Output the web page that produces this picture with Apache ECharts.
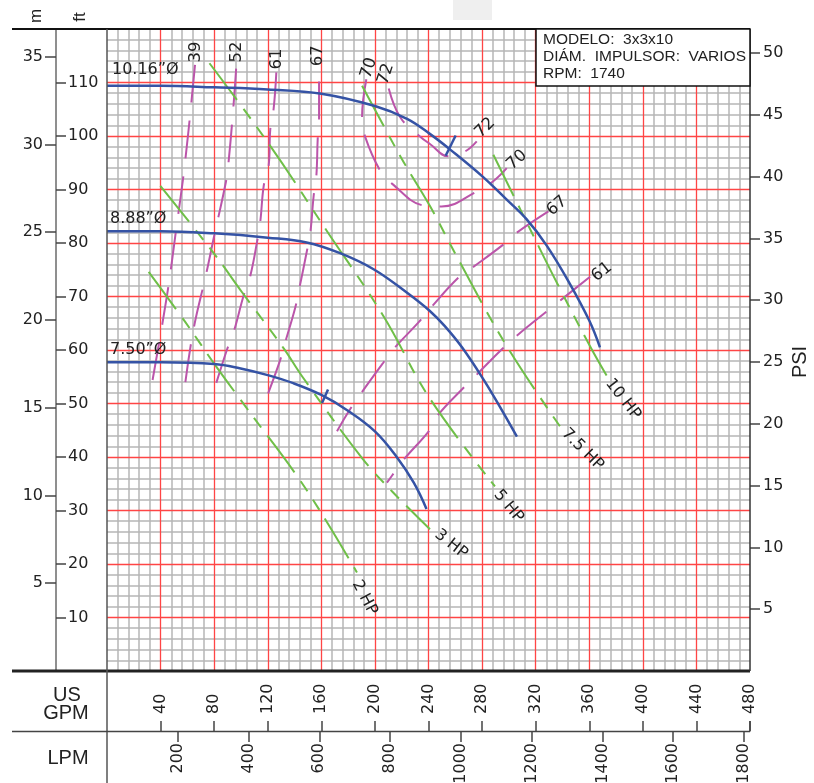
<!DOCTYPE html>
<html><head><meta charset="utf-8">
<script src="https://cdn.jsdelivr.net/npm/echarts@6/dist/echarts.min.js"></script>
<style>html,body{margin:0;padding:0;background:#fff}#c{width:814px;height:783px}</style>
</head><body><div id="c"></div><script>
// ---------- tick labels ----------
const GPM_TICKS = [40,80,120,160,200,240,280,320,360,400,440,480];
const LPM_TICKS = [200,400,600,800,1000,1200,1400,1600,1800];
const FT_TICKS = [10,20,30,40,50,60,70,80,90,100,110];
const M_TICKS = [5,10,15,20,25,30,35];
const PSI_TICKS = [5,10,15,20,25,30,35,40,45,50];

// ---------- impeller curves [GPM, ft] ----------
const IMP_1016 = [[0,109.4],[40,109.4],[80,109.1],[120,108.7],[160,107.9],[200,105.6],[224,103.2],[241,100.4],[256,97.5],[280,92.5],[298,88.2],[313,84.5],[328,79.6],[345,72.6],[360,65.5],[368,60.5]];
const IMP_888 = [[0,82.2],[40,82.2],[80,81.8],[120,81.0],[149,80.1],[174,78.1],[199,75.1],[224,70.7],[241,67.3],[252,64.5],[265,60.5],[281,54.5],[293,49.5],[306,43.8]];
const IMP_750 = [[0,57.7],[40,57.7],[80,57.4],[99,56.6],[120,55.3],[139,53.8],[160,51.6],[179,48.8],[200,44.8],[216,40.1],[229,35.2],[238.5,30.3]];
const TICK_1016 = [[260.3,100.1],[252.8,96.3]];
const TICK_750 = [[165,52.6],[160.5,50.1]];

// ---------- horsepower lines ----------
const HP_10 = [[288.4,96.5],[318,81.5],[337,72],[361,60.5],[373,55.2]];
const HP_75 = [[190.4,109.4],[206.5,101.9],[221.5,95.1],[241.1,86.9],[259.8,78.1],[297,61.3],[338.2,45.7]];
const HP_5 = [[76.5,113.6],[121.7,98.2],[164,82.3],[206.2,66.4],[241.1,50.9],[289.6,34.5]];
const HP_3 = [[39.8,90.7],[80.9,77.7],[100.8,70.8],[131.9,60.3],[145.6,55.1],[190.4,39.8],[212.7,33.6],[241.1,26.5]];
const HP_2 = [[31.1,74.6],[58.5,65.2],[82.1,56.7],[103.2,49.5],[148,34.2],[186.6,18.4]];

// ---------- efficiency lines ----------
const EFF_39 = [[65.7,113.3],[58.4,95.4],[51.0,81.4],[44.8,70.2],[33.6,53.8]];
const EFF_52 = [[96.4,112.6],[94.4,105.6],[90.7,95.0],[88.9,91.6],[80.0,81.3],[74.0,74.2],[64.6,63.9],[58.4,53.8]];
const EFF_61 = [[126.4,111.9],[124.4,105.1],[121.9,101.3],[120.7,94.5],[117,90.7],[114.4,83.9],[112,80.2],[107,73.9],[102,70.2],[94.6,63.4],[89.6,60.1],[80.8,53.2]];
const EFF_67 = [[158.3,110.2],[158.3,103.2],[157.3,99.5],[156.3,92.6],[154.3,88.9],[151.8,82],[149.3,78.6],[143.8,71.8],[140.6,68.0],[133.1,61.5],[129.4,58.2],[119.4,51.3]];
const EFF_70 = [[193.6,110.6],[190.4,103.5],[192.8,99.8],[204,93.5],[212.7,91.1],[236.4,87.0],[249.8,86.8],[276,89.6],[288.1,91.5],[298.4,94.0]];
const EFF_72 = [[210.3,108.9],[218.9,103.5],[232.7,100.1],[241.1,98.5],[254.8,96.2],[267.2,97.1],[276,99.0]];
const EFF_67R = [[329.5,85.9],[305.8,81.9],[295.8,79.7],[272.2,75.3],[262.2,73.5],[242.4,68.1],[232.7,65.2],[214,60.2],[205.3,57.3],[189.1,51.7],[180.4,48.5],[171.7,44.8]];
const EFF_61R = [[360.6,73.7],[340.6,69.7],[328.2,67.2],[307,62.9],[294.6,60.1],[276,55.4],[266,52.9],[247.3,47.9],[241.1,45.1],[221.5,39.5],[212.7,36.5],[209,35.2]];

// ---------- label texts ----------
const CURVE_LABELS = ['10.16”Ø','8.88”Ø','7.50”Ø'];
const HP_LABELS = ['10 HP','7.5 HP','5 HP','3 HP','2 HP'];
const EFF_LABELS = ['39','52','61','67','70','72','72','70','67','61'];
const INFO = ['MODELO:  3x3x10','DIÁM.  IMPULSOR:  VARIOS','RPM:  1740'];

const GPM_MAX = 480, FT_MAX = 120;
const LPM_PER_GPM = 3.785411784, M_PER_FT = 0.3048, FT_PER_PSI = 2.31;

const BLUE = '#3553a5', GREEN = '#6fbf48', MAG = '#bb55aa';
const GREEN_DASH = [46,11,12,10,12,10];
const MAG_DASH = [38,18];
const NUM = {fontFamily:'DejaVu Sans', fontSize:16, color:'#222', formatter: v => String(v)};
const TICK_STYLE = {color:'#444', width:1.5};

function ser(data, color, width, type, smooth) {
  return {type:'line', data, xAxisIndex:0, yAxisIndex:0, symbol:'none', silent:true,
    smooth: smooth === undefined ? 0.4 : smooth, animation:false, z:3,
    lineStyle:{color, width, type, cap:'butt', join:'round'}};
}
const hidden = {axisLine:{show:false}, axisTick:{show:false}, axisLabel:{show:false}, splitLine:{show:false}};

const chart = echarts.init(document.getElementById('c'));
chart.setOption({
  animation:false,
  backgroundColor:'#fff',
  grid:[
    {left:107, top:29, width:643, height:642, outerBoundsMode:'none'},   // plot
    {left:56, top:29, width:51, height:642, outerBoundsMode:'none'},     // left axis strip
    {left:107, top:671, width:643, height:60, outerBoundsMode:'none'}    // bottom axis strip
  ],
  xAxis:[
    Object.assign({type:'value', gridIndex:0, min:0, max:GPM_MAX, interval:40, z:0}, hidden,
      {minorTick:{show:false, splitNumber:5}, minorSplitLine:{show:true, lineStyle:{color:'#b6b6b6', width:1.5}}}),
    Object.assign({type:'value', gridIndex:0, min:0, max:GPM_MAX, interval:40, position:'top', z:1}, hidden,
      {splitLine:{show:true, showMinLine:false, showMaxLine:false, lineStyle:{color:'#ff4545', width:1.3}}}),
    {type:'value', gridIndex:2, min:0, max:GPM_MAX, position:'bottom',
     axisLine:{show:false}, splitLine:{show:false},
     axisTick:{show:true, inside:true, length:10, customValues:GPM_TICKS, lineStyle:TICK_STYLE},
     axisLabel:Object.assign({inside:true, rotate:90, margin:17, customValues:GPM_TICKS}, NUM)},
    {type:'value', gridIndex:2, min:0, max:GPM_MAX*LPM_PER_GPM, position:'bottom',
     axisLine:{show:false}, splitLine:{show:false},
     axisTick:{show:true, inside:false, length:11, customValues:LPM_TICKS, lineStyle:TICK_STYLE},
     axisLabel:Object.assign({rotate:90, margin:12, customValues:LPM_TICKS}, NUM)},
    Object.assign({type:'value', gridIndex:1, min:0, max:1}, hidden)
  ],
  yAxis:[
    Object.assign({type:'value', gridIndex:0, min:0, max:FT_MAX, interval:10, z:0}, hidden,
      {minorTick:{show:false, splitNumber:5}, minorSplitLine:{show:true, lineStyle:{color:'#b6b6b6', width:1.5}}}),
    Object.assign({type:'value', gridIndex:0, min:0, max:FT_MAX, interval:10, position:'left', z:1}, hidden,
      {splitLine:{show:true, showMinLine:false, showMaxLine:false, lineStyle:{color:'#ff4545', width:1.3}}}),
    {type:'value', gridIndex:0, min:0, max:FT_MAX/FT_PER_PSI, position:'right',
     axisLine:{show:false}, splitLine:{show:false},
     axisTick:{show:true, inside:false, length:10, customValues:PSI_TICKS, lineStyle:TICK_STYLE},
     axisLabel:Object.assign({margin:13, customValues:PSI_TICKS}, NUM)},
    {type:'value', gridIndex:1, min:0, max:FT_MAX, position:'left',
     axisLine:{show:true, lineStyle:{color:'#6a6a6a', width:1.5}}, splitLine:{show:false},
     axisTick:{show:true, inside:true, length:10, customValues:FT_TICKS, lineStyle:TICK_STYLE},
     axisLabel:Object.assign({inside:true, margin:12, customValues:FT_TICKS}, NUM)},
    {type:'value', gridIndex:1, min:0, max:FT_MAX*M_PER_FT, position:'left',
     axisLine:{show:false}, splitLine:{show:false},
     axisTick:{show:true, inside:false, length:11, customValues:M_TICKS, lineStyle:TICK_STYLE},
     axisLabel:Object.assign({margin:13, customValues:M_TICKS}, NUM)},
    Object.assign({type:'value', gridIndex:2, min:0, max:1}, hidden)
  ],
  series:[
    ser(EFF_39, MAG, 2, MAG_DASH), ser(EFF_52, MAG, 2, MAG_DASH), ser(EFF_61, MAG, 2, MAG_DASH),
    ser(EFF_67, MAG, 2, MAG_DASH), ser(EFF_70, MAG, 2, MAG_DASH), ser(EFF_72, MAG, 2, MAG_DASH),
    ser(EFF_67R, MAG, 2, MAG_DASH), ser(EFF_61R, MAG, 2, MAG_DASH),
    ser(HP_10, GREEN, 2, GREEN_DASH), ser(HP_75, GREEN, 2, GREEN_DASH), ser(HP_5, GREEN, 2, GREEN_DASH),
    ser(HP_3, GREEN, 2, GREEN_DASH), ser(HP_2, GREEN, 2, GREEN_DASH),
    ser(IMP_1016, BLUE, 2.5, 'solid'), ser(IMP_888, BLUE, 2.5, 'solid'), ser(IMP_750, BLUE, 2.5, 'solid'),
    ser(TICK_1016, BLUE, 2.5, 'solid', false), ser(TICK_750, BLUE, 2.5, 'solid', false)
  ]
});

// ---------- annotations ----------
const P = (gx, fy) => chart.convertToPixel({xAxisIndex:0, yAxisIndex:0}, [gx, fy]);
const R = d => d * Math.PI / 180;
function T(pt, s, o) {
  o = o || {};
  return {type:'text', x:pt[0], y:pt[1], rotation:R(o.rot || 0), silent:true, z:100,
    style:{text:s, fill:o.color || '#222', font:(o.size || 15) + 'px ' + (o.family || '"DejaVu Sans"'),
      align:o.align || 'center', verticalAlign:'middle'}};
}
function L(x1, y1, x2, y2, c, w) {
  return {type:'line', silent:true, z:95, shape:{x1, y1, x2, y2}, style:{stroke:c, lineWidth:w}};
}
const g = [];
const GL = 107, GR = 750, GT = 29, GB = 671;
g.push({type:'rect', silent:true, z:80, shape:{x:453, y:0, width:39, height:20}, style:{fill:'#efefef'}});
g.push(L(12, GT, GR, GT, '#111', 2));
g.push(L(12, GB, GR, GB, '#222', 3));
g.push(L(GL, GT, GL, 783, '#555', 1.5));
g.push(L(GR, GT, GR, GB, '#333', 1.5));
g.push(L(12, 731.5, GR, 731.5, '#444', 1.5));
g.push(L(GR, 721, GR, 731.5, '#444', 1.5));
// info box
g.push({type:'rect', silent:true, z:96, shape:{x:536, y:GT, width:GR - 536, height:57}, style:{fill:'#fff', stroke:'#111', lineWidth:1.5}});
INFO.forEach((s, i) => g.push(T([543, 40 + i * 17], s, {align:'left', size:15.5, family:'"Liberation Sans"'})));
// axis titles
g.push(T([36, 16], 'm', {rot:90, size:17, family:'"Liberation Sans"'}));
g.push(T([80, 17], 'ft', {rot:90, size:17, family:'"Liberation Sans"'}));
g.push(T([67, 695], 'US', {size:20, family:'"Liberation Sans"'}));
g.push(T([66, 713], 'GPM', {size:20, family:'"Liberation Sans"'}));
g.push(T([68, 758], 'LPM', {size:20, family:'"Liberation Sans"'}));
g.push(T([800, 362], 'PSI', {rot:90, size:20, family:'"Liberation Sans"'}));
// curve labels (anchors in GPM / ft)
const CURVE_AT = [[3.7,112.4],[2.2,84.5],[2.2,60.1]];
CURVE_LABELS.forEach((s, i) => g.push(T(P(CURVE_AT[i][0], CURVE_AT[i][1]), s, {align:'left', size:16})));
const HP_AT = [[385.2,50.8,-52],[355,41.4,-45],[299.7,30.8,-50],[256.8,23.7,-38],[192.2,13.7,-62]];
HP_LABELS.forEach((s, i) => g.push(T(P(HP_AT[i][0], HP_AT[i][1]), s, {rot:HP_AT[i][2], size:16})));
const EFF_AT = [[66.4,115.7,90],[97,115.7,90],[126.9,114.4,90],[157.5,115.0,90],[195.6,112.7,72],[208.3,111.6,72],
                [282.2,101.5,44],[306,95.5,42],[335.9,86.9,40],[369.5,74.6,38]];
EFF_LABELS.forEach((s, i) => g.push(T(P(EFF_AT[i][0], EFF_AT[i][1]), s, {rot:EFF_AT[i][2], size:16.5})));
chart.setOption({graphic:{elements:g}});
</script></body></html>
